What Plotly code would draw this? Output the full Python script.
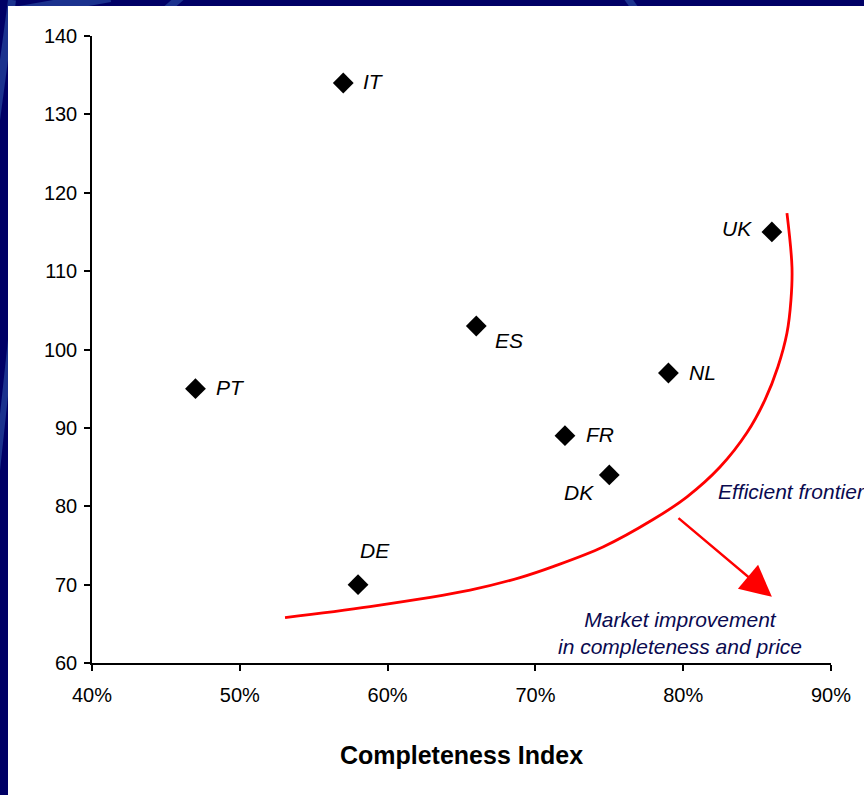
import plotly.graph_objects as go

# ---- data ----
countries = ["IT", "UK", "ES", "PT", "NL", "FR", "DK", "DE"]
completeness = [0.57, 0.86, 0.66, 0.47, 0.79, 0.72, 0.75, 0.58]
price = [134, 115, 103, 95, 97, 89, 84, 70]

frontier_x = [0.5306, 0.5881, 0.6558, 0.6896, 0.7119, 0.7457, 0.7796, 0.8026,
              0.8249, 0.8432, 0.8554, 0.8641, 0.8702, 0.8729, 0.8736, 0.8702]
frontier_y = [65.8, 67.2, 69.3, 70.9, 72.3, 74.8, 78.3, 81.2,
              85.0, 89.4, 93.6, 97.8, 102.1, 106.3, 110.5, 117.4]

x_ticks = [0.4, 0.5, 0.6, 0.7, 0.8, 0.9]
y_ticks = [60, 70, 80, 90, 100, 110, 120, 130, 140]

# label offsets in pixels (xshift, yshift)
label_shift = {
    "IT": (30, 2), "UK": (-35, 3), "ES": (33, -15), "PT": (35, 1),
    "NL": (34, 1), "FR": (35, 1), "DK": (-30, -18), "DE": (17, 34),
}

FONT = "Liberation Sans, Arial, sans-serif"
NAVY = "#000066"
TEXT_NAVY = "#0a0a50"

# plot area in page pixels (for decorative border shapes)
L, R, T, B = 92, 831, 36, 663


def px(xp):
    return (xp - L) / (R - L)


def py(yp):
    return (B - yp) / (B - T)


fig = go.Figure()

fig.add_trace(go.Scatter(
    x=frontier_x, y=frontier_y, mode="lines",
    line=dict(color="#ff0000", width=2.8, shape="spline", smoothing=1.0),
    hoverinfo="skip", showlegend=False,
))

fig.add_trace(go.Scatter(
    x=completeness, y=price, mode="markers",
    marker=dict(symbol="diamond", size=16, color="black"),
    text=countries, showlegend=False,
))

annotations = []
for c, xv, yv in zip(countries, completeness, price):
    dx, dy = label_shift[c]
    annotations.append(dict(
        x=xv, y=yv, xref="x", yref="y", text=c, showarrow=False,
        xshift=dx, yshift=dy,
        font=dict(family=FONT, size=21, color="black", style="italic"),
    ))

annotations.append(dict(
    x=0.8220, y=81.9, xref="x", yref="y", text="Efficient frontier",
    showarrow=False, xanchor="left", yanchor="middle",
    font=dict(family=FONT, size=21, color=TEXT_NAVY, style="italic"),
))
annotations.append(dict(
    x=0.7980, y=63.8, xref="x", yref="y",
    text="Market improvement<br>in completeness and price",
    showarrow=False, xanchor="center", yanchor="middle",
    font=dict(family=FONT, size=21, color=TEXT_NAVY, style="italic"),
))
# arrow
annotations.append(dict(
    x=0.8600, y=68.44, ax=0.7958, ay=78.65,
    xref="x", yref="y", axref="x", ayref="y",
    text="", showarrow=True, arrowhead=2, arrowsize=2.5, arrowwidth=2.5,
    arrowcolor="#ff0000", standoff=0,
))

DECO = "rgba(60,110,190,0.45)"
shapes = [
    dict(type="line", xref="paper", yref="paper", x0=px(20), y0=py(12), x1=px(110), y1=py(-4),
         line=dict(color=DECO, width=12), layer="below"),
    dict(type="line", xref="paper", yref="paper", x0=px(166), y0=py(10), x1=px(182), y1=py(-4),
         line=dict(color=DECO, width=8), layer="below"),
    dict(type="line", xref="paper", yref="paper", x0=px(626), y0=py(-4), x1=px(636), y1=py(10),
         line=dict(color=DECO, width=7), layer="below"),
    dict(type="line", xref="paper", yref="paper", x0=px(-4), y0=py(120), x1=px(12), y1=py(0),
         line=dict(color=DECO, width=8), layer="below"),
    dict(type="line", xref="paper", yref="paper", x0=px(-4), y0=py(480), x1=px(12), y1=py(330),
         line=dict(color=DECO, width=6), layer="below"),
    # white content area on navy background
    dict(type="rect", xref="paper", yref="paper",
         x0=px(8), x1=px(880), y0=py(810), y1=py(6),
         fillcolor="white", line=dict(width=0), layer="below"),
]

fig.update_layout(
    width=864, height=795,
    margin=dict(l=L, r=864 - R, t=T, b=795 - B, pad=0),
    paper_bgcolor=NAVY, plot_bgcolor="white",
    font=dict(family=FONT, size=20, color="black"),
    showlegend=False,
    annotations=annotations, shapes=shapes,
    xaxis=dict(
        range=[0.4, 0.9], tickvals=x_ticks, tickformat=".0%",
        showgrid=False, zeroline=False, showline=True, linecolor="black", linewidth=1.5,
        ticks="outside", ticklen=6, tickcolor="black", tickwidth=1.5,
        tickfont=dict(family=FONT, size=20, color="black"),
        ticklabelstandoff=7,
        title=dict(text="<b>Completeness Index</b>", standoff=42,
                   font=dict(family=FONT, size=25, color="black")),
    ),
    yaxis=dict(
        range=[60, 140], tickvals=y_ticks,
        showgrid=False, zeroline=False, showline=True, linecolor="black", linewidth=1.5,
        ticks="outside", ticklen=6, tickcolor="black", tickwidth=1.5,
        tickfont=dict(family=FONT, size=20, color="black"),
        ticklabelstandoff=3,
    ),
)

fig.write_html(
    "out.html",
    config={"displayModeBar": False},
    post_script="document.documentElement.style.margin='0';"
                "document.body.style.margin='0';"
                "document.body.style.overflow='hidden';"
                "document.body.style.background='#000066';",
)
